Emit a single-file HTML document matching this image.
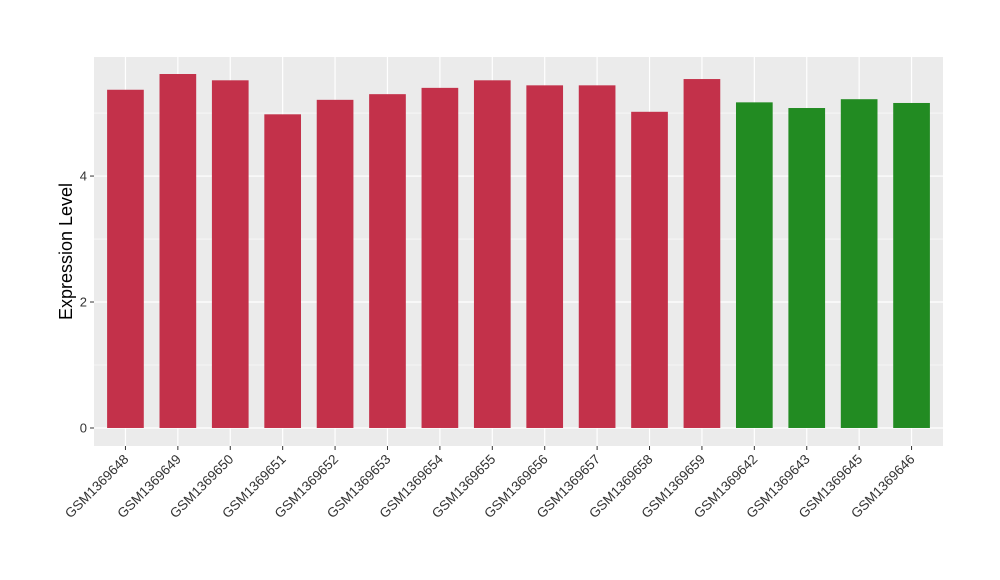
<!DOCTYPE html>
<html><head><meta charset="utf-8"><style>
body{margin:0;background:#fff;}
svg{display:block;font-family:"Liberation Sans",sans-serif;}
</style></head><body>
<svg id="chart" width="1000" height="580"></svg>
<script>
const categories=["GSM1369648","GSM1369649","GSM1369650","GSM1369651","GSM1369652","GSM1369653","GSM1369654","GSM1369655","GSM1369656","GSM1369657","GSM1369658","GSM1369659","GSM1369642","GSM1369643","GSM1369645","GSM1369646"];
const values=[5.37,5.62,5.52,4.98,5.21,5.30,5.40,5.52,5.44,5.44,5.02,5.54,5.17,5.08,5.22,5.16];
const groups=["a","a","a","a","a","a","a","a","a","a","a","a","b","b","b","b"];
const yTicks=[0,2,4];
const yMinor=[1,3,5];
const colors={a:"#C3314A",b:"#228B22"};
const NS="http://www.w3.org/2000/svg";
const svg=document.getElementById('chart');
const L=94,R=943,T=57,B=446,ymin=-0.286,ymax=5.89;
const y=v=>B-(v-ymin)/(ymax-ymin)*(B-T);
const step=(R-L)/(categories.length-1+1.2);
const x=i=>L+step*(i+0.6);
const bw=step*0.7;
function mk(tag,attrs){const e=document.createElementNS(NS,tag);for(const k in attrs)e.setAttribute(k,attrs[k]);svg.appendChild(e);return e;}
let e=mk('rect',{x:L,y:T,width:R-L,height:B-T,fill:'#EBEBEB'});


yMinor.forEach(v=>{const g=mk('line',{x1:L,x2:R,y1:y(v),y2:y(v),stroke:'#fff','stroke-width':0.6});

});
yTicks.forEach(v=>{const g=mk('line',{x1:L,x2:R,y1:y(v),y2:y(v),stroke:'#fff','stroke-width':1.2});


const t=mk('line',{x1:L-4,x2:L,y1:y(v),y2:y(v),stroke:'#333','stroke-width':1});


const l=mk('text',{x:L-7,y:y(v)+4.5,'text-anchor':'end','font-size':13,fill:'#333'});l.textContent=v;

});
categories.forEach((c,i)=>{const g=mk('line',{x1:x(i),x2:x(i),y1:T,y2:B,stroke:'#fff','stroke-width':1.2});

});
categories.forEach((c,i)=>{
const b=mk('rect',{x:x(i)-bw/2,y:y(values[i]),width:bw,height:y(0)-y(values[i]),fill:colors[groups[i]]});


const t=mk('line',{x1:x(i),x2:x(i),y1:B,y2:B+4,stroke:'#333','stroke-width':1});


const l=mk('text',{x:x(i)+4,y:B+14,'text-anchor':'end','font-size':13.5,fill:'#333',transform:`rotate(-45 ${x(i)+4} ${B+14})`});l.textContent=c;

});
const yt=mk('text',{x:72,y:(T+B)/2,'text-anchor':'middle','font-size':18,fill:'#000',transform:`rotate(-90 72 ${(T+B)/2})`});yt.textContent='Expression Level';


</script>
</body></html>
